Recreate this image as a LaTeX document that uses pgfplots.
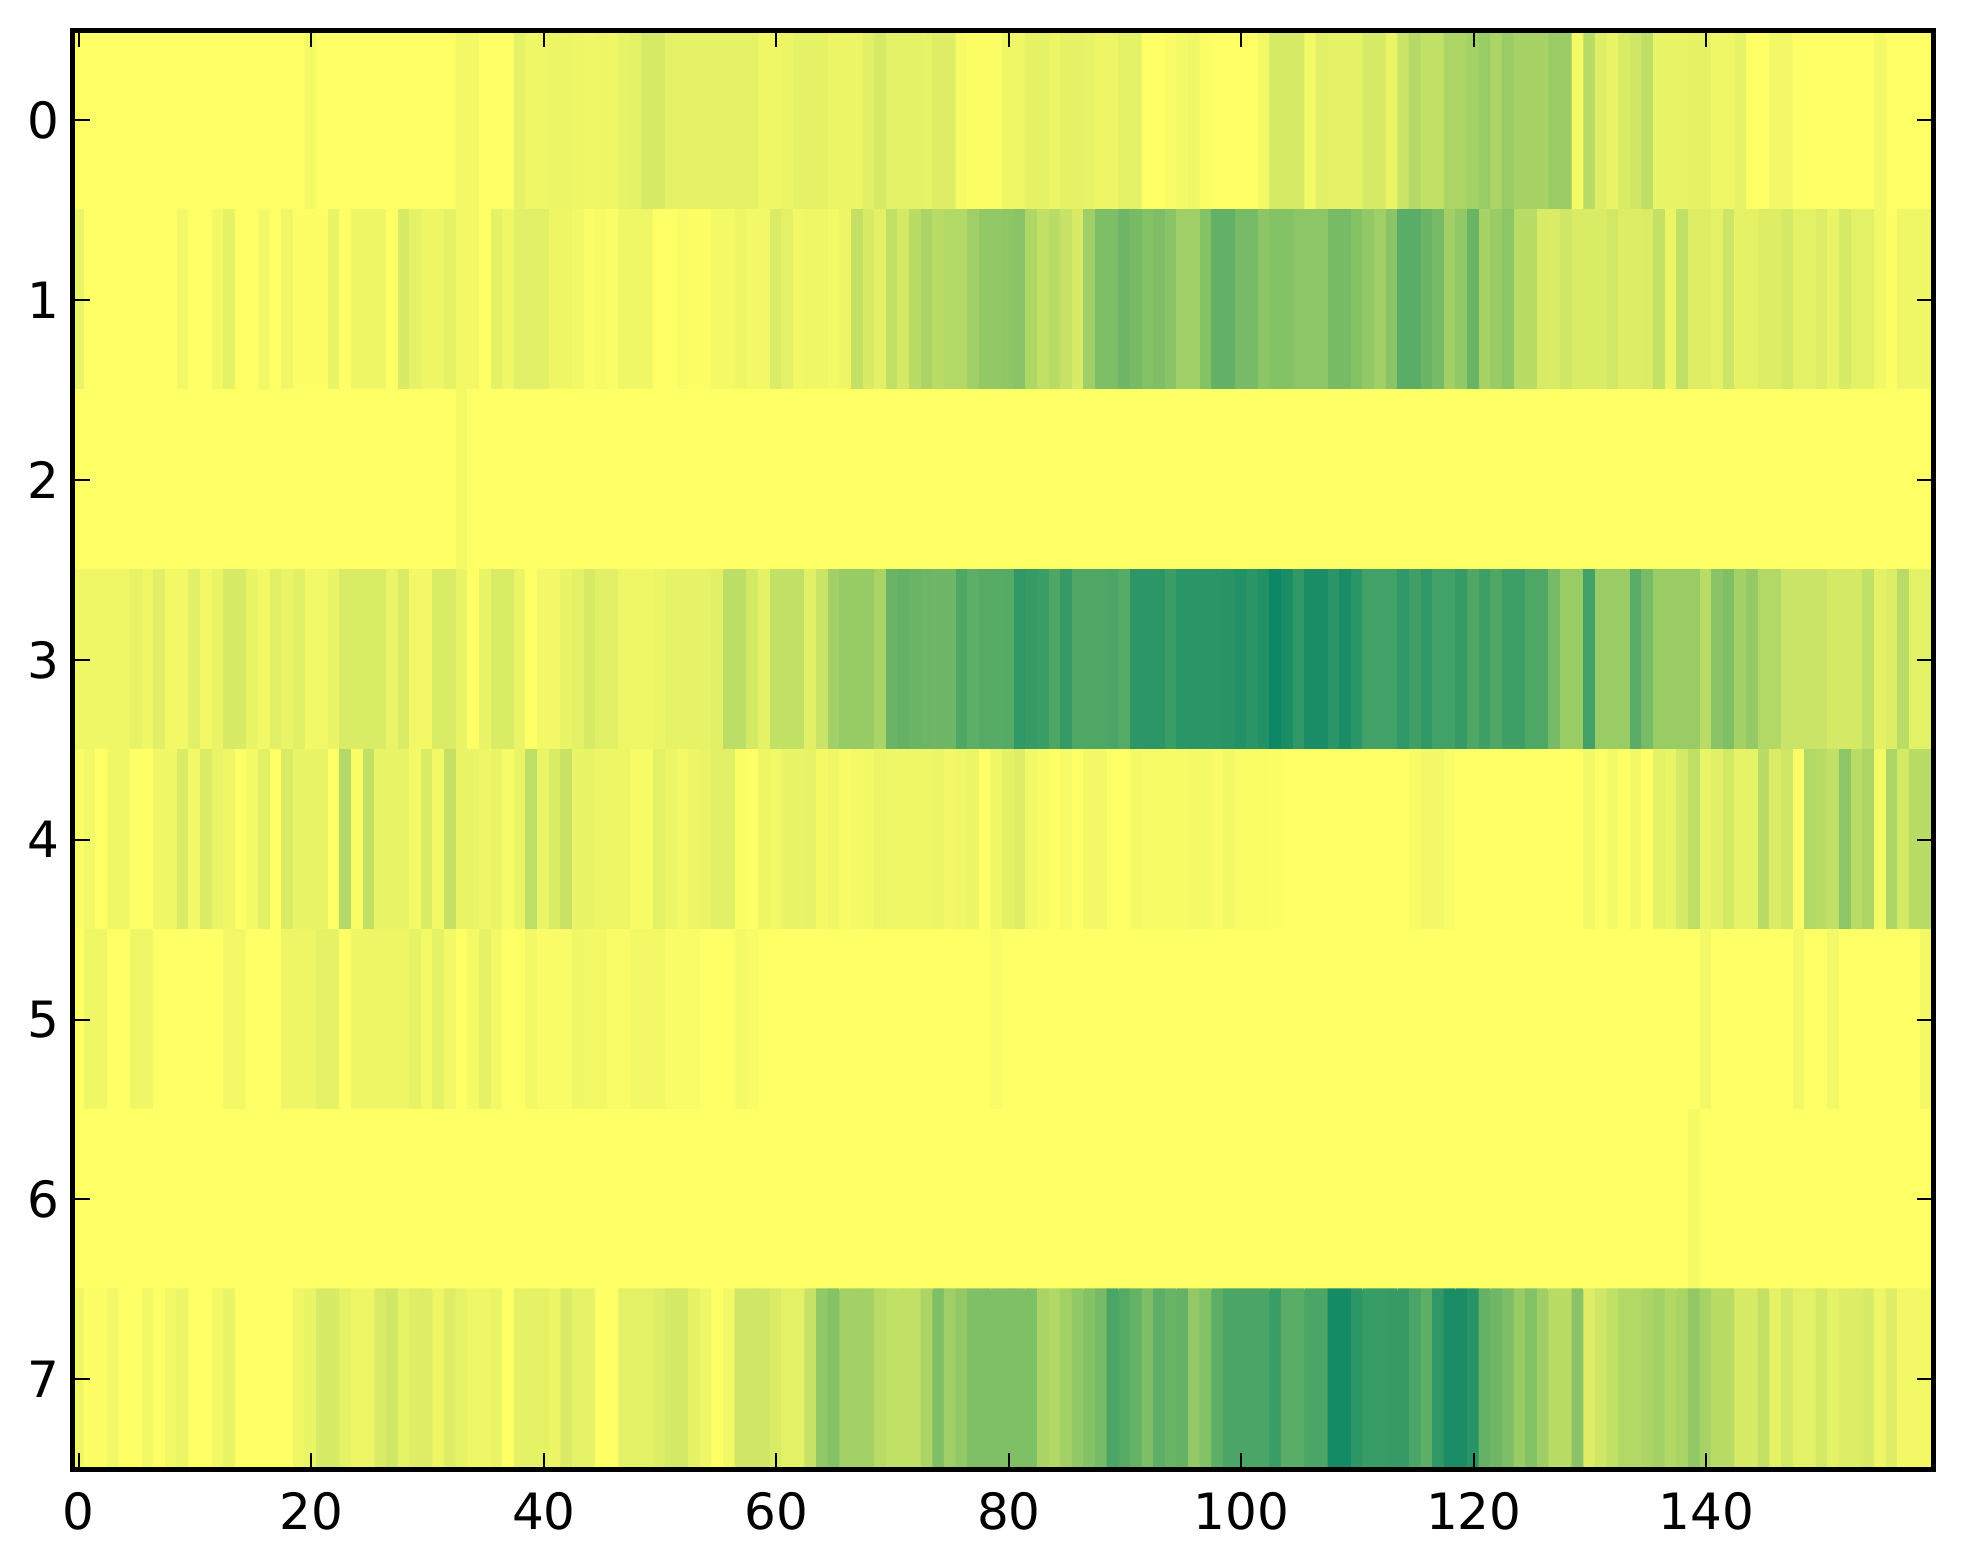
\documentclass[border=0pt]{standalone}
\usepackage{fontspec}
\setmainfont{DejaVu Sans}
\usepackage{pgfplots}
\pgfplotsset{compat=1.18}
\begin{document}
\begin{tikzpicture}
\path[use as bounding box] (-14.6pt,-18.95pt) rectangle (378pt,293.85pt);
\begin{axis}[
  at={(0,0)}, anchor=south west,
  scale only axis, width=372pt, height=287.8pt,
  xmin=-0.5, xmax=159.5, ymin=-0.5, ymax=7.5, y dir=reverse,
  xtick={0,20,40,60,80,100,120,140}, ytick={0,1,2,3,4,5,6,7},
  tick align=inside, major tick length=3.3pt,
  tick style={black, line width=0.4pt},
  axis line style={black, line width=1pt},
  axis on top,
  /pgf/number format/assume math mode=true,
  tick label style={font=\fontsize{10}{12}\selectfont, black},
  xticklabel style={yshift=-1pt},
  yticklabel style={xshift=0.7pt},
  colormap={summerr}{rgb255(0cm)=(255,255,102); rgb255(2cm)=(212,233,102); rgb255(10cm)=(0,128,102)},
  point meta min=0, point meta max=1,
]
\addplot[matrix plot*, mesh/cols=160, point meta=explicit]
 table[row sep=\\, header=false, x expr={mod(\coordindex,160)}, y expr={floor(\coordindex/160)}, meta index=0] {
0\\0\\0\\0\\0\\0\\0\\0\\0\\0\\
0\\0\\0\\0\\0\\0\\0\\0\\0\\0\\
.05\\0\\0\\0\\0\\0\\0\\0\\0\\0\\
0\\0\\0\\.06\\.06\\0\\0\\0\\.12\\.07\\
.07\\.09\\.09\\.08\\.07\\.08\\.07\\.11\\.13\\.19\\
.19\\.12\\.12\\.12\\.12\\.12\\.12\\.12\\.12\\.07\\
.07\\.09\\.12\\.12\\.12\\.09\\.09\\.09\\.14\\.19\\
.13\\.13\\.13\\.11\\.15\\.15\\.04\\.01\\.01\\.01\\
.07\\.07\\.12\\.12\\.09\\.12\\.12\\.1\\.08\\.08\\
.13\\.13\\0\\0\\.03\\.05\\.07\\.02\\0\\0\\
0\\0\\.06\\.19\\.19\\.19\\.05\\.14\\.12\\.12\\
.12\\.18\\.18\\.09\\.24\\.32\\.27\\.27\\.35\\.35\\
.38\\.42\\.35\\.42\\.37\\.37\\.37\\.42\\.42\\.05\\
.3\\.15\\.1\\.17\\.22\\.28\\.1\\.1\\.1\\.12\\
.12\\.07\\.07\\.11\\0\\0\\.06\\.06\\0\\0\\
0\\0\\0\\0\\0\\.06\\0\\0\\0\\0\\
.1\\0\\0\\0\\0\\0\\0\\0\\0\\.06\\
0\\0\\.06\\.12\\0\\0\\.06\\0\\.07\\.01\\
.01\\.01\\.1\\0\\.08\\.08\\.08\\0\\.18\\.12\\
.08\\.08\\.12\\.06\\.06\\0\\.12\\.07\\.14\\.14\\
.14\\.08\\.08\\.06\\.02\\.04\\.02\\.07\\.07\\.07\\
0\\0\\.03\\.01\\.01\\.05\\.05\\.08\\.06\\.06\\
.17\\.13\\.06\\.07\\.07\\.05\\.08\\.26\\.18\\.13\\
.27\\.2\\.3\\.36\\.3\\.33\\.33\\.4\\.45\\.45\\
.46\\.48\\.34\\.27\\.3\\.25\\.18\\.4\\.53\\.53\\
.58\\.55\\.5\\.53\\.48\\.4\\.4\\.5\\.63\\.63\\
.55\\.55\\.47\\.5\\.5\\.47\\.47\\.47\\.55\\.55\\
.5\\.45\\.4\\.48\\.66\\.66\\.6\\.55\\.39\\.45\\
.6\\.37\\.42\\.47\\.3\\.3\\.18\\.17\\.22\\.17\\
.17\\.17\\.21\\.16\\.16\\.17\\.26\\.09\\.27\\.16\\
.16\\.13\\.23\\.12\\.12\\.16\\.16\\.2\\.13\\.13\\
.16\\.1\\.18\\.13\\.13\\.06\\.01\\.07\\.07\\.07\\
0\\0\\0\\0\\0\\0\\0\\0\\0\\0\\
0\\0\\0\\0\\0\\0\\0\\0\\0\\0\\
0\\0\\0\\0\\0\\0\\0\\0\\0\\0\\
0\\0\\0\\.05\\0\\0\\0\\0\\0\\0\\
0\\0\\0\\0\\0\\0\\0\\0\\0\\0\\
0\\0\\0\\0\\0\\0\\0\\0\\0\\0\\
0\\0\\0\\0\\0\\0\\0\\0\\0\\0\\
0\\0\\0\\0\\0\\0\\0\\0\\0\\0\\
0\\0\\0\\0\\0\\0\\0\\0\\0\\0\\
0\\0\\0\\0\\0\\0\\0\\0\\0\\0\\
0\\0\\0\\0\\0\\0\\0\\0\\0\\0\\
0\\0\\0\\0\\0\\0\\0\\0\\0\\0\\
0\\0\\0\\0\\0\\0\\0\\0\\0\\0\\
0\\0\\0\\0\\0\\0\\0\\0\\0\\0\\
0\\0\\0\\0\\0\\0\\0\\0\\0\\0\\
0\\0\\0\\0\\0\\0\\0\\0\\0\\0\\
.07\\.07\\.07\\.07\\.07\\.11\\.07\\.14\\.06\\.06\\
.14\\.06\\.1\\.18\\.18\\.1\\.06\\.14\\.1\\.14\\
.06\\.06\\.1\\.17\\.17\\.17\\.17\\.1\\.17\\.06\\
.06\\.17\\.17\\.1\\0\\.1\\.17\\.17\\.1\\0\\
.06\\.06\\.1\\.13\\.18\\.14\\.14\\.07\\.07\\.07\\
.09\\.11\\.11\\.11\\.11\\.14\\.29\\.29\\.2\\.12\\
.27\\.27\\.27\\.14\\.24\\.39\\.43\\.43\\.43\\.36\\
.6\\.62\\.6\\.59\\.58\\.58\\.7\\.65\\.67\\.67\\
.68\\.82\\.8\\.78\\.7\\.8\\.7\\.7\\.7\\.72\\
.68\\.83\\.83\\.83\\.78\\.84\\.84\\.84\\.84\\.85\\
.87\\.84\\.87\\.95\\.9\\.82\\.9\\.9\\.84\\.9\\
.84\\.75\\.75\\.75\\.82\\.76\\.82\\.75\\.75\\.8\\
.7\\.77\\.7\\.77\\.77\\.7\\.7\\.55\\.42\\.42\\
.75\\.42\\.42\\.42\\.66\\.55\\.42\\.42\\.42\\.42\\
.3\\.48\\.52\\.38\\.44\\.33\\.33\\.24\\.24\\.24\\
.24\\.2\\.2\\.2\\.27\\.12\\.16\\.3\\.13\\.13\\
.03\\.06\\0\\.07\\.07\\0\\0\\.07\\.07\\.17\\
.06\\.17\\.1\\.07\\0\\.05\\.14\\0\\.17\\.1\\
.1\\.1\\0\\.32\\.03\\.27\\.1\\.1\\.1\\.05\\
.17\\.06\\.26\\.1\\.1\\.07\\.1\\.04\\.1\\.28\\
.1\\.17\\.25\\.1\\.1\\.08\\.08\\.08\\.04\\.04\\
.13\\.09\\.05\\.08\\.1\\.14\\.14\\.02\\0\\.08\\
.06\\.1\\.1\\.11\\.05\\.07\\.04\\.05\\.06\\.09\\
.07\\.07\\.07\\.07\\.09\\.06\\.07\\.09\\0\\.07\\
.13\\.16\\.06\\.04\\0\\.04\\0\\.06\\.06\\0\\
0\\.05\\.04\\.04\\.04\\.04\\.05\\.05\\.03\\.06\\
.02\\.02\\.02\\.01\\0\\0\\0\\0\\0\\0\\
0\\0\\0\\0\\0\\.04\\.06\\.06\\.03\\0\\
0\\0\\0\\0\\0\\0\\0\\0\\0\\0\\
.06\\0\\.05\\0\\.06\\0\\.12\\.1\\.2\\.28\\
.1\\.14\\.2\\.11\\.11\\.3\\.17\\.22\\.03\\.33\\
.3\\.27\\.47\\.3\\.35\\.05\\.35\\.2\\.3\\.3\\
0\\.07\\.07\\0\\0\\.07\\.07\\0\\0\\0\\
0\\0\\0\\.06\\.06\\0\\0\\0\\.08\\.08\\
.08\\.12\\.12\\0\\.08\\.08\\.08\\.08\\.08\\.11\\
.05\\.12\\.06\\0\\.05\\.12\\.06\\0\\0\\.06\\
.03\\.03\\.03\\.07\\.06\\.06\\.03\\.03\\.06\\.06\\
.06\\.03\\.03\\.03\\0\\0\\0\\.05\\.03\\0\\
0\\0\\0\\0\\0\\0\\0\\0\\0\\0\\
0\\0\\0\\0\\0\\0\\0\\0\\0\\.03\\
0\\0\\0\\0\\0\\0\\0\\0\\0\\0\\
0\\0\\0\\0\\0\\0\\0\\0\\0\\0\\
0\\0\\0\\0\\0\\0\\0\\0\\0\\0\\
0\\0\\0\\0\\0\\0\\0\\0\\0\\0\\
0\\0\\0\\0\\0\\0\\0\\0\\0\\0\\
0\\0\\0\\0\\0\\0\\0\\0\\0\\0\\
.06\\0\\0\\0\\0\\0\\0\\0\\.06\\0\\
0\\.06\\0\\0\\0\\0\\0\\0\\0\\.06\\
0\\0\\0\\0\\0\\0\\0\\0\\0\\0\\
0\\0\\0\\0\\0\\0\\0\\0\\0\\0\\
0\\0\\0\\0\\0\\0\\0\\0\\0\\0\\
0\\0\\0\\0\\0\\0\\0\\0\\0\\0\\
0\\0\\0\\0\\0\\0\\0\\0\\0\\0\\
0\\0\\0\\0\\0\\0\\0\\0\\0\\0\\
0\\0\\0\\0\\0\\0\\0\\0\\0\\0\\
0\\0\\0\\0\\0\\0\\0\\0\\0\\0\\
0\\0\\0\\0\\0\\0\\0\\0\\0\\0\\
0\\0\\0\\0\\0\\0\\0\\0\\0\\0\\
0\\0\\0\\0\\0\\0\\0\\0\\0\\0\\
0\\0\\0\\0\\0\\0\\0\\0\\0\\0\\
0\\0\\0\\0\\0\\0\\0\\0\\0\\0\\
0\\0\\0\\0\\0\\0\\0\\0\\0\\.05\\
0\\0\\0\\0\\0\\0\\0\\0\\0\\0\\
0\\0\\0\\0\\0\\0\\0\\0\\0\\0\\
.07\\.01\\.01\\.06\\0\\0\\.06\\0\\.06\\.09\\
0\\0\\.06\\.1\\0\\0\\0\\0\\0\\.07\\
.1\\.18\\.18\\.12\\.08\\.08\\.17\\.21\\.11\\.15\\
.16\\.08\\.16\\.11\\.07\\.07\\.1\\0\\.12\\.12\\
.12\\.09\\.17\\.11\\.11\\0\\0\\.13\\.13\\.13\\
.16\\.2\\.2\\.12\\.07\\0\\.06\\.22\\.22\\.22\\
.17\\.13\\.13\\.25\\.45\\.5\\.38\\.38\\.38\\.3\\
.27\\.27\\.27\\.35\\.52\\.4\\.45\\.52\\.52\\.52\\
.52\\.52\\.52\\.36\\.33\\.38\\.45\\.5\\.55\\.72\\
.68\\.62\\.53\\.65\\.6\\.62\\.45\\.5\\.65\\.72\\
.72\\.72\\.72\\.78\\.66\\.66\\.72\\.72\\.92\\.92\\
.83\\.79\\.79\\.8\\.8\\.72\\.65\\.82\\.9\\.9\\
.85\\.62\\.58\\.53\\.42\\.5\\.4\\.3\\.3\\.48\\
.15\\.22\\.27\\.33\\.33\\.35\\.38\\.33\\.36\\.45\\
.37\\.3\\.3\\.18\\.18\\.26\\.12\\.2\\.13\\.13\\
.2\\.12\\.16\\.16\\.18\\.07\\.15\\.06\\.06\\.06\\
};
\end{axis}
\end{tikzpicture}
\end{document}
